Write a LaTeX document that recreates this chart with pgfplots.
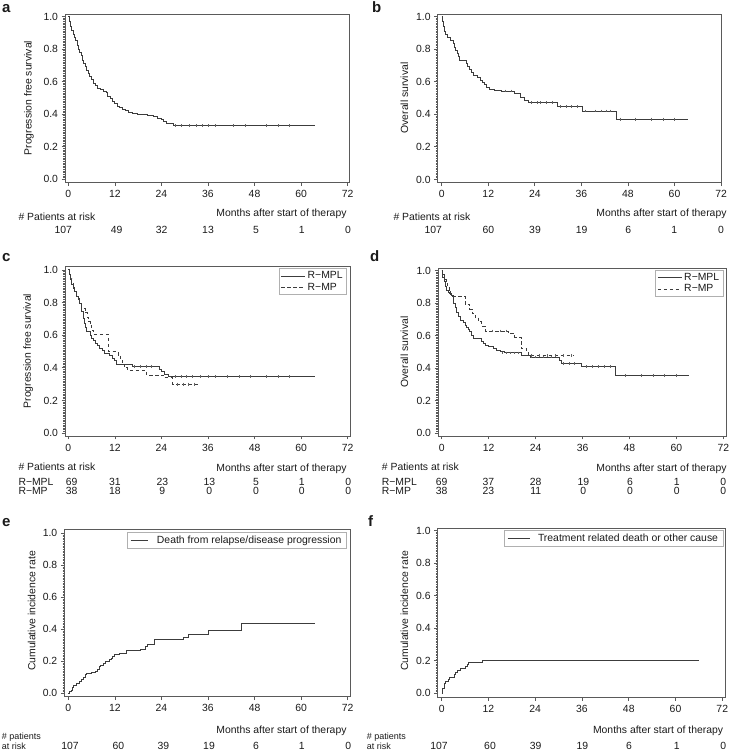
\documentclass[border=0pt]{standalone}
\usepackage{fontspec}
\setmainfont{Liberation Sans}
\usepackage{pgfplots}
\pgfplotsset{compat=1.18}
\definecolor{axg}{HTML}{5A5A5A}
\definecolor{crv}{HTML}{3C3C3C}
\definecolor{lgr}{HTML}{B0B0B0}
\definecolor{txt}{HTML}{1A1A1A}
\newcommand{\fs}{\fontsize{10.4}{12}\selectfont}
\pgfplotsset{
 kmaxis/.style={
  scale only axis, anchor=south west,
  axis line style={draw=axg, line width=0.9pt},
  tick style={draw=axg, line width=0.7pt},
  tick align=outside,
  major tick length=3.5pt, minor tick length=1.8pt,
  xtick={0,12,24,36,48,60,72},
  ytick={0,0.2,0.4,0.6,0.8,1.0},
  minor y tick num=19,
  xtick pos=left, ytick pos=left,
  yticklabel style={/pgf/number format/.cd, fixed, fixed zerofill, precision=1},
  /pgf/number format/assume math mode=true,
  tick label style={font=\fs, text=txt},
  xticklabel style={yshift=-1pt},
  legend cell align=left,
 },
 km/.style={const plot mark left, draw=crv, line width=0.9pt, mark=none},
 kmd/.style={const plot mark left, draw=crv, line width=0.9pt, mark=none, dash pattern=on 3.5pt off 2.5pt},
 cens/.style={only marks, mark=|, mark size=1.4pt, mark options={draw=crv!80, line width=0.5pt, solid}, forget plot},
 twolegend/.style={
  legend style={at={(axis description cs:1,1)}, anchor=north east, xshift=-3pt, yshift=-2pt,
   draw=lgr, line width=0.6pt, font=\fs, text=txt, inner xsep=2pt, inner ysep=1pt, row sep=-1.5pt},
  legend image code/.code={\draw[##1] (0pt,0pt) -- (24pt,0pt);},
 },
}
\begin{document}
\begin{tikzpicture}[font=\fs, text=txt]
\useasboundingbox (0,0) rectangle (729pt,752pt);

% ---------------- a ----------------
\begin{axis}[kmaxis, at={(65pt,569.5pt)}, width=284pt, height=168.5pt,
  xmin=-0.85, xmax=72.35, ymin=-0.02, ymax=1.015]
\addplot[km] coordinates {
(0,1.0)(0.3,0.97)(0.6,0.94)(0.9,0.915)(1.2,0.89)(1.5,0.87)(1.9,0.85)(2.3,0.82)
(2.7,0.80)(3.0,0.78)(3.4,0.76)(3.7,0.73)(4.0,0.71)(4.3,0.69)(4.7,0.67)(5.1,0.65)
(5.5,0.63)(6.0,0.61)(6.5,0.59)(7.0,0.575)(7.5,0.56)(8.2,0.55)(9.0,0.54)(9.8,0.53)
(10.2,0.51)(10.8,0.495)(11.3,0.48)(12.0,0.465)(12.6,0.45)(13.2,0.44)(14.0,0.43)
(14.8,0.42)(15.6,0.41)(16.5,0.405)(17.8,0.40)(19.5,0.395)(20.5,0.39)(22.0,0.385)
(23.0,0.375)(24.0,0.365)(24.6,0.355)(25.3,0.345)(26.3,0.34)(27.2,0.33)(63.6,0.33)};
\addplot[cens] coordinates {(27.5,0.33)(29.2,0.33)(31.2,0.33)(33.1,0.33)(34.6,0.33)(36.1,0.33)
(37.8,0.33)(42.5,0.33)(45.5,0.33)(51.1,0.33)(54.1,0.33)(56.9,0.33)};
\end{axis}

% ---------------- b ----------------
\begin{axis}[kmaxis, at={(437.7pt,569.3pt)}, width=284pt, height=168.7pt,
  xmin=-1.03, xmax=72.16, ymin=-0.02, ymax=1.015]
\addplot[km] coordinates {
(0,1.0)(0.2,0.97)(0.4,0.94)(0.7,0.91)(1.0,0.89)(1.5,0.87)(2.2,0.85)(3.0,0.835)
(3.2,0.81)(3.5,0.79)(4.0,0.77)(4.4,0.755)(4.7,0.73)(6.3,0.71)(6.7,0.695)(7.2,0.675)
(7.7,0.655)(8.2,0.635)(9.2,0.625)(10.0,0.61)(10.6,0.595)(11.0,0.58)(11.6,0.565)
(12.3,0.555)(13.5,0.548)(15.3,0.542)(18.8,0.53)(20.2,0.50)(21.3,0.487)(22.3,0.47)
(29.8,0.445)(36.2,0.42)(45.0,0.37)(63.6,0.37)};
\addplot[cens] coordinates {(16.5,0.542)(18,0.542)(23,0.47)(24.5,0.47)(25.5,0.47)(27,0.47)(28.5,0.47)
(30.5,0.445)(32,0.445)(33.5,0.445)(35,0.445)(37,0.42)(39.5,0.42)(41,0.42)(42.5,0.42)(43.5,0.42)
(46,0.37)(50,0.37)(54,0.37)(57,0.37)(60,0.37)};
\end{axis}

% ---------------- c ----------------
\begin{axis}[kmaxis, twolegend, at={(65pt,316pt)}, width=285pt, height=169.5pt,
  xmin=-0.85, xmax=72.6, ymin=-0.018, ymax=1.021]
\addplot[km] coordinates {
(0,1.0)(0.3,0.97)(0.6,0.94)(0.9,0.91)(1.3,0.885)(1.7,0.867)(2.1,0.84)(2.5,0.826)
(3.0,0.795)(3.3,0.77)(3.5,0.745)(3.8,0.72)(4.0,0.70)(4.2,0.67)(4.4,0.65)(4.7,0.62)
(5.8,0.60)(6.0,0.58)(6.6,0.565)(7.0,0.55)(7.5,0.536)(8.1,0.52)(8.8,0.505)(9.4,0.49)
(10.6,0.478)(11.5,0.46)(12.0,0.445)(12.4,0.42)(16.5,0.41)(23.5,0.39)(24.1,0.375)
(24.9,0.36)(25.8,0.345)(63.6,0.345)};
\addlegendentry{R−MPL}
\addplot[kmd] coordinates {
(0,1.0)(0.3,0.974)(0.6,0.947)(0.9,0.921)(1.3,0.895)(1.7,0.868)(2.1,0.842)(2.5,0.816)
(2.9,0.79)(3.3,0.763)(4.3,0.737)(4.9,0.711)(5.3,0.684)(5.6,0.658)(6.0,0.632)(6.5,0.605)
(10.3,0.50)(12.8,0.474)(13.4,0.447)(13.9,0.421)(14.5,0.40)(15.3,0.385)(20.2,0.355)
(24.5,0.34)(26.8,0.30)(33.9,0.30)};
\addlegendentry{R−MP}
\addplot[cens] coordinates {(17,0.41)(18.5,0.41)(20,0.41)(21.5,0.41)
(27.5,0.345)(29,0.345)(30.5,0.345)(32,0.345)(34,0.345)(36,0.345)(38,0.345)(41,0.345)
(44,0.345)(47,0.345)(51,0.345)(54,0.345)(57,0.345)
(28,0.30)(29.5,0.30)(31,0.30)(32.5,0.30)};
\end{axis}

% ---------------- d ----------------
\begin{axis}[kmaxis, twolegend, at={(438pt,316pt)}, width=288.5pt, height=167.7pt,
  xmin=-0.95, xmax=72.8, ymin=-0.018, ymax=1.0135]
\addplot[km] coordinates {
(0,1.0)(0.3,0.96)(0.6,0.93)(0.9,0.90)(1.3,0.88)(1.7,0.865)(2.1,0.857)(2.6,0.845)
(3.0,0.80)(3.4,0.77)(3.8,0.744)(4.2,0.72)(4.7,0.695)(5.6,0.68)(6.0,0.66)(6.4,0.652)
(6.8,0.637)(7.2,0.623)(7.6,0.60)(8.1,0.58)(10.2,0.565)(10.6,0.55)(11.1,0.54)(12.0,0.53)
(13.2,0.52)(14.0,0.51)(14.9,0.50)(16.0,0.493)(20.4,0.48)(21.5,0.475)(22.6,0.468)
(30.2,0.445)(30.6,0.427)(35.8,0.407)(44.5,0.356)(63.1,0.356)};
\addlegendentry{R−MPL}
\addplot[kmd] coordinates {
(0,1.0)(0.3,0.974)(0.7,0.947)(1.1,0.921)(1.5,0.895)(1.9,0.868)(2.3,0.842)(6.0,0.79)
(7.2,0.763)(7.8,0.737)(8.5,0.711)(9.4,0.684)(10.2,0.658)(11.1,0.628)(17.0,0.61)
(18.7,0.59)(20.3,0.52)(21.7,0.50)(22.1,0.478)(33.7,0.478)};
\addlegendentry{R−MP}
\addplot[cens] coordinates {(15.5,0.493)(16.5,0.493)(17.5,0.493)(18.5,0.493)(19.5,0.493)
(23,0.468)(24,0.468)(26,0.468)(28,0.468)(31,0.427)(32.5,0.427)(34,0.427)
(37,0.407)(38.5,0.407)(40,0.407)(41.5,0.407)(43,0.407)
(47,0.356)(51,0.356)(54,0.356)(57,0.356)(60,0.356)
(13,0.628)(15,0.628)(16.5,0.628)(23,0.478)(25,0.478)(27,0.478)(29,0.478)(31,0.478)(33,0.478)};
\end{axis}

% ---------------- e ----------------
\begin{axis}[kmaxis, at={(64.3pt,55.3pt)}, width=285.7pt, height=167.4pt,
  xmin=-1.03, xmax=72.6, ymin=-0.021, ymax=1.025,
  legend style={at={(axis description cs:1,1)}, anchor=north east, xshift=-3.3pt, yshift=-2.4pt,
   draw=lgr, line width=0.6pt, font=\fs, text=txt, inner xsep=3pt, inner ysep=1.5pt},
  legend image code/.code={\draw[#1] (0pt,0pt) -- (17pt,0pt);}]
\addplot[km] coordinates {
(0,0)(0.4,0.01)(0.8,0.02)(1.1,0.035)(1.3,0.05)(2.1,0.062)(3.0,0.075)(3.5,0.087)
(4.0,0.10)(4.4,0.115)(4.8,0.125)(6.0,0.13)(6.9,0.137)(7.5,0.15)(7.9,0.165)(8.3,0.177)
(9.0,0.188)(9.7,0.198)(10.6,0.21)(11.0,0.22)(11.4,0.232)(12.0,0.243)(13.3,0.252)
(15.0,0.265)(18.5,0.275)(20.0,0.29)(20.3,0.308)(22.3,0.335)(29.6,0.35)(30.9,0.365)
(36.1,0.39)(44.7,0.435)(63.6,0.435)};
\addlegendentry{\hspace{7pt}Death from relapse/disease progression}
\end{axis}

% ---------------- f ----------------
\begin{axis}[kmaxis, at={(437.7pt,54.7pt)}, width=287.3pt, height=169pt,
  xmin=-1.03, xmax=72.7, ymin=-0.025, ymax=1.014,
  legend style={at={(axis description cs:1,1)}, anchor=north east, xshift=-1.7pt, yshift=-1.7pt,
   draw=lgr, line width=0.6pt, font=\fs, text=txt, inner xsep=3pt, inner ysep=1.5pt},
  legend image code/.code={\draw[#1] (0pt,0pt) -- (22pt,0pt);}]
\addplot[km] coordinates {
(0,0)(0.3,0.03)(0.6,0.06)(0.9,0.075)(1.7,0.085)(2.1,0.10)(3.2,0.113)(3.5,0.125)
(4.1,0.14)(4.7,0.155)(6.2,0.165)(6.6,0.178)(6.9,0.19)(10.4,0.20)(66.1,0.20)};
\addlegendentry{\hspace{6pt}Treatment related death or other cause}
\end{axis}

% ---------------- text ----------------
\begin{scope}[x=1pt, y=-1pt, shift={(0pt,752pt)}]
\def\L{\fontsize{15}{18}\selectfont\bfseries}
\def\S{\fontsize{9}{10}\selectfont}
\node[anchor=base west, inner sep=0pt] at (2,13) {\L a};
\node[anchor=base west, inner sep=0pt] at (372,13) {\L b};
\node[anchor=base west, inner sep=0pt] at (2,262) {\L c};
\node[anchor=base west, inner sep=0pt] at (370,262) {\L d};
\node[anchor=base west, inner sep=0pt] at (2,527) {\L e};
\node[anchor=base west, inner sep=0pt] at (368,527) {\L f};

\node[rotate=90] at (29,98) {Progression free survival};
\node[rotate=90] at (404.3,98) {Overall survival};
\node[rotate=90] at (28.3,351) {Progression free survival};
\node[rotate=90] at (404.3,352) {Overall survival};
\node[rotate=90] at (31.7,611) {Cumulative incidence rate};
\node[rotate=90] at (404.3,611) {Cumulative incidence rate};

\node[anchor=base east, inner sep=0pt] at (346.7,217) {Months after start of therapy};
\node[anchor=base east, inner sep=0pt] at (726.7,216.4) {Months after start of therapy};
\node[anchor=base east, inner sep=0pt] at (346.7,472) {Months after start of therapy};
\node[anchor=base east, inner sep=0pt] at (726.7,472) {Months after start of therapy};
\node[anchor=base east, inner sep=0pt] at (346.7,733) {Months after start of therapy};
\node[anchor=base east, inner sep=0pt] at (723.3,733.7) {Months after start of therapy};

\node[anchor=base west, inner sep=0pt] at (18.3,221) {\# Patients at risk};
\node[anchor=base west, inner sep=0pt] at (393.3,220.7) {\# Patients at risk};
\node[anchor=base west, inner sep=0pt] at (18.3,471) {\# Patients at risk};
\node[anchor=base west, inner sep=0pt] at (381.7,470.4) {\# Patients at risk};
\node[anchor=base west, inner sep=0pt] at (1.7,739.8) {\S\# patients};
\node[anchor=base west, inner sep=0pt] at (1.7,749.5) {\S at risk};
\node[anchor=base west, inner sep=0pt] at (366.7,739.8) {\S\# patients};
\node[anchor=base west, inner sep=0pt] at (366.7,749.5) {\S at risk};

\node[anchor=base west, inner sep=0pt] at (18.3,485.4) {R−MPL};
\node[anchor=base west, inner sep=0pt] at (18.3,494.4) {R−MP};
\node[anchor=base west, inner sep=0pt] at (381.7,485.4) {R−MPL};
\node[anchor=base west, inner sep=0pt] at (381.7,494.4) {R−MP};

\foreach \x/\t in {63.3/107,116.7/49,161.7/32,208/13,256/5,301.7/1,348/0}
  \node[anchor=base, inner sep=0pt] at (\x,233.7) {\t};
\foreach \x/\t in {433.3/107,488.3/60,535/39,581.7/19,628.3/6,674.3/1,721/0}
  \node[anchor=base, inner sep=0pt] at (\x,233.7) {\t};
\foreach \x/\t in {71.7/69,115/31,162.3/23,209.3/13,256/5,301.7/1,348.3/0}
  \node[anchor=base, inner sep=0pt] at (\x,485.4) {\t};
\foreach \x/\t in {71.7/38,115/18,162.3/9,209.3/0,256/0,301.7/0,348.3/0}
  \node[anchor=base, inner sep=0pt] at (\x,494.4) {\t};
\foreach \x/\t in {441.7/69,488.3/37,535.7/28,583.3/19,630/6,676.7/1,723.3/0}
  \node[anchor=base, inner sep=0pt] at (\x,485.4) {\t};
\foreach \x/\t in {441.7/38,488.3/23,535.7/11,583.3/0,630/0,676.7/0,723.3/0}
  \node[anchor=base, inner sep=0pt] at (\x,494.4) {\t};
\foreach \x/\t in {70/107,118.3/60,163.3/39,209/19,256/6,301.7/1,348.3/0}
  \node[anchor=base, inner sep=0pt] at (\x,749.7) {\t};
\foreach \x/\t in {439/107,490/60,535.7/39,582.3/19,629/6,676.7/1,723.3/0}
  \node[anchor=base, inner sep=0pt] at (\x,749.7) {\t};
\end{scope}
\end{tikzpicture}
\end{document}
